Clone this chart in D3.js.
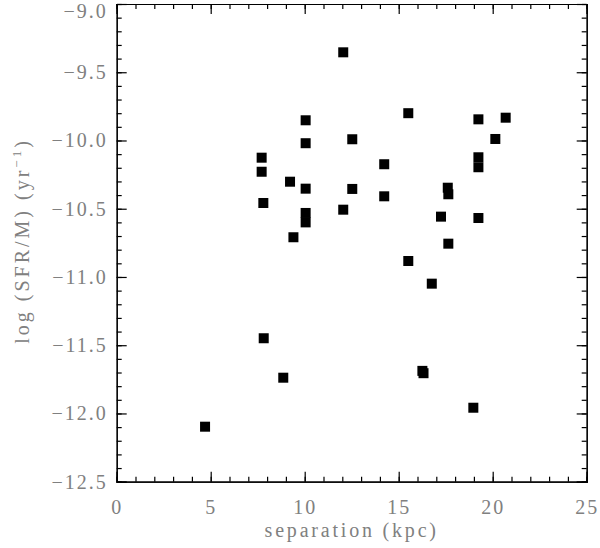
<!DOCTYPE html>
<html>
<head>
<meta charset="utf-8">
<title>sSFR vs separation</title>
<style>
  body { margin: 0; background: #fff; }
  .lbl { font-family: "Liberation Serif", serif; fill: #808080; }
  .axis path, .axis line { fill: none; stroke: #000; stroke-width: 1.2; }
</style>
</head>
<body>
<script src="https://cdn.jsdelivr.net/npm/d3@7"></script>
<script>

// data
var separation = [12.05, 10.05, 10.05, 12.53, 7.71, 7.71, 14.23, 9.22, 10.05, 12.53,
  14.23, 7.80, 12.05, 10.05, 10.05, 9.40,
  15.51, 19.24, 20.69, 20.14, 19.24, 19.24, 17.61, 17.64, 17.25, 19.24,
  17.64, 15.51, 16.76, 7.82, 8.86, 16.26, 16.32, 18.97, 4.70];
var logSSFR = [-9.354, -9.852, -10.02, -9.991, -10.126, -10.229, -10.174, -10.302, -10.353, -10.355,
  -10.409, -10.458, -10.507, -10.531, -10.60, -10.709,
  -9.80, -9.845, -9.833, -9.989, -10.123, -10.196, -10.346, -10.394, -10.558, -10.568,
  -10.756, -10.883, -11.049, -11.449, -11.738, -11.688, -11.705, -11.958, -12.097];

var xTicks = [0, 5, 10, 15, 20, 25];
var yTicks = [-12.5, -12.0, -11.5, -11.0, -10.5, -10.0, -9.5, -9.0];

var w = 600, h = 548;
var pLeft = 116.7, pRight = 586.7, pTop = 4, pBottom = 481.7;

var svg = d3.select("body").append("svg").attr("width", w).attr("height", h);

var x = d3.scaleLinear().domain([0, 25]).range([pLeft, pRight]);
var y = d3.scaleLinear().domain([-12.5, -9.0]).range([pBottom, pTop]);

var xMinor = d3.range(0, 25.01, 1);
var yMinor = d3.range(0, 36).map(function(i) { return -12.5 + i * 0.1; });

function fmt(v) { return v < 0 ? "\u2212" + Math.abs(v).toFixed(1) : v.toFixed(1); }

// minor ticks, all four sides
svg.append("g").attr("class", "axis").attr("transform", "translate(0," + pBottom + ")")
  .call(d3.axisBottom(x).tickValues(xMinor).tickSize(-5).tickFormat(""));
svg.append("g").attr("class", "axis").attr("transform", "translate(0," + pTop + ")")
  .call(d3.axisTop(x).tickValues(xMinor).tickSize(-5).tickFormat(""));
svg.append("g").attr("class", "axis").attr("transform", "translate(" + pLeft + ",0)")
  .call(d3.axisLeft(y).tickValues(yMinor).tickSize(-5).tickFormat(""));
svg.append("g").attr("class", "axis").attr("transform", "translate(" + pRight + ",0)")
  .call(d3.axisRight(y).tickValues(yMinor).tickSize(-5).tickFormat(""));

// major ticks
svg.append("g").attr("class", "axis").attr("transform", "translate(0," + pTop + ")")
  .call(d3.axisTop(x).tickValues(xTicks).tickSize(-10).tickFormat(""));
svg.append("g").attr("class", "axis").attr("transform", "translate(" + pRight + ",0)")
  .call(d3.axisRight(y).tickValues(yTicks).tickSize(-10).tickFormat(""));

var xa = svg.append("g").attr("class", "axis").attr("transform", "translate(0," + pBottom + ")")
  .call(d3.axisBottom(x).tickValues(xTicks).tickSize(-10).tickPadding(18).tickFormat(d3.format("d")));
var ya = svg.append("g").attr("class", "axis").attr("transform", "translate(" + pLeft + ",0)")
  .call(d3.axisLeft(y).tickValues(yTicks).tickSize(-10).tickPadding(9).tickFormat(fmt));

xa.selectAll("text").attr("class", "lbl").attr("font-size", 20).attr("letter-spacing", 2).attr("font-family", null).attr("fill", null);
ya.selectAll("text").attr("class", "lbl").attr("font-size", 20).attr("letter-spacing", 2).attr("font-family", null).attr("fill", null)
  .attr("y", function(d) { return Math.max(0, 11 - y(d)); });

// markers
svg.append("g").selectAll("rect")
  .data(separation.map(function(s, i) { return [s, logSSFR[i]]; }))
  .enter().append("rect")
  .attr("x", function(d) { return x(d[0]) - 5; })
  .attr("y", function(d) { return y(d[1]) - 5; })
  .attr("width", 10).attr("height", 10)
  .attr("fill", "#000");

// titles
svg.append("text").attr("class", "lbl")
  .attr("x", (pLeft + pRight) / 2).attr("y", 537)
  .attr("text-anchor", "middle").attr("font-size", 20).attr("letter-spacing", 2.8)
  .text("separation (kpc)");

var yl = svg.append("text").attr("class", "lbl")
  .attr("transform", "translate(29,241) rotate(-90)")
  .attr("text-anchor", "middle").attr("font-size", 20).attr("letter-spacing", 3);
yl.append("tspan").text("log (SFR/M)  (yr");
yl.append("tspan").attr("font-size", 13).attr("dy", -8).text("\u22121");
yl.append("tspan").attr("dy", 8).text(")");

</script>
</body>
</html>
